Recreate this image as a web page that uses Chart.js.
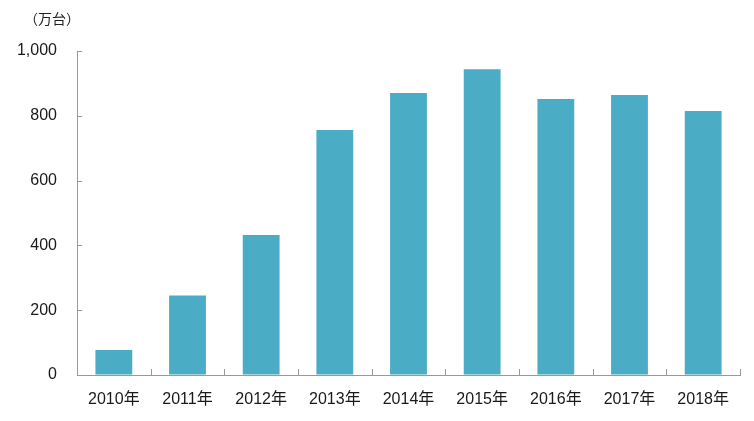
<!DOCTYPE html>
<html>
<head>
<meta charset="utf-8">
<script src="https://cdn.jsdelivr.net/npm/chart.js@4/dist/chart.umd.min.js"></script>
<style>
  html, body { margin: 0; padding: 0; background: #fff; overflow: hidden; }
  #wrap { width: 754px; height: 421px; position: relative; }
</style>
</head>
<body>
<div id="wrap"><canvas id="c"></canvas></div>
<script>
// データ（万台）
var years = ['2010年', '2011年', '2012年', '2013年', '2014年', '2015年', '2016年', '2017年', '2018年'];
var units = [77, 245, 432, 756, 870, 944, 852, 864, 815];
var yTicks = [0, 200, 400, 600, 800, 1000];
var unitLabel = '（万台）';

var FONT = '"Liberation Sans", "Noto Sans CJK JP", sans-serif';
var AXIS = '#999999';

// 内向きの目盛り線 + 単位ラベル
var decor = {
  id: 'decor',
  afterDraw: function (chart) {
    var ctx = chart.ctx, x = chart.scales.x, y = chart.scales.y;
    ctx.save();
    ctx.strokeStyle = AXIS; ctx.lineWidth = 1;
    ctx.beginPath();
    yTicks.forEach(function (v) {
      var py = Math.round(y.getPixelForValue(v)) + 0.5;
      ctx.moveTo(x.left, py); ctx.lineTo(x.left + 5, py);
    });
    for (var i = 1; i <= years.length; i++) {
      var px = Math.round(x.left + (x.right - x.left) * i / years.length) + 0.5;
      ctx.moveTo(px, y.bottom); ctx.lineTo(px, y.bottom - 6);
    }
    ctx.stroke();
    ctx.fillStyle = '#222';
    ctx.font = '14px ' + FONT;
    ctx.textAlign = 'left'; ctx.textBaseline = 'middle';
    ctx.fillText(unitLabel, 24, 20);
    ctx.restore();
  }
};

new Chart(document.getElementById('c').getContext('2d'), {
  type: 'bar',
  data: {
    labels: years,
    datasets: [{ data: units, backgroundColor: '#4bacc6', borderWidth: 0,
      barPercentage: 0.5, categoryPercentage: 1 }]
  },
  options: {
    responsive: true, maintainAspectRatio: false, animation: false,
    layout: { padding: { top: 51, right: 14, left: 0, bottom: 0 } },
    plugins: { legend: { display: false }, tooltip: { enabled: false } },
    scales: {
      x: {
        grid: { drawOnChartArea: false, drawTicks: false },
        border: { color: AXIS, width: 1 },
        ticks: { color: '#1a1a1a', font: { size: 16, family: FONT }, padding: 15, maxRotation: 0 },
        afterFit: function (s) { s.height = 46; }
      },
      y: {
        min: 0, max: 1000,
        grid: { drawOnChartArea: false, drawTicks: false },
        border: { color: AXIS, width: 1 },
        afterBuildTicks: function (s) { s.ticks = yTicks.map(function (v) { return { value: v }; }); },
        ticks: {
          color: '#1a1a1a', font: { size: 16, family: FONT }, padding: 20,
          callback: function (v) { return v.toLocaleString('en-US'); }
        },
        afterFit: function (s) { s.width = 77; }
      }
    }
  },
  plugins: [decor]
});
</script>
</body>
</html>
